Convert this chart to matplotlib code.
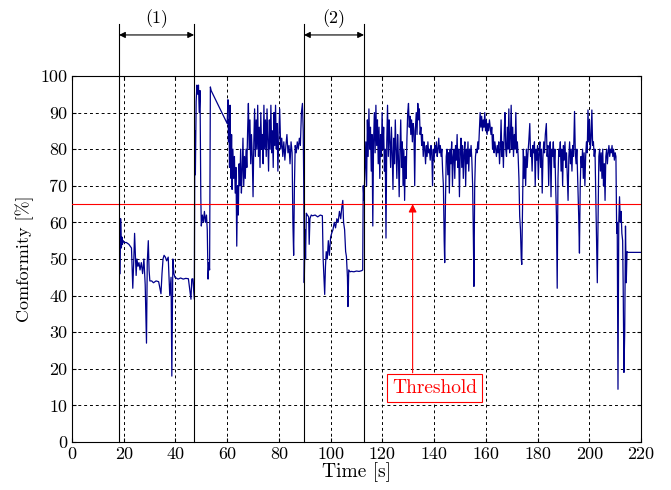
import numpy as np
import matplotlib
matplotlib.use('Agg')
import matplotlib.pyplot as plt

plt.rcParams['font.family'] = 'cmr10'
plt.rcParams['mathtext.fontset'] = 'cm'
plt.rcParams['axes.unicode_minus'] = False
plt.rcParams['font.size'] = 13

# readings, one block per stretch of the recording
t_a = [18.6, 18.8, 19.1, 19.3, 19.5, 19.8, 20.2, 21.0, 22.0, 23.0, 23.5, 23.9,
       24.2, 24.5, 24.8, 25.1, 25.5, 25.9, 26.3, 26.8, 27.3, 27.8, 28.3, 28.8,
       29.1, 29.5, 29.8, 30.1, 30.4, 30.8, 31.5, 32.5, 33.5, 34.4, 34.8, 35.2,
       35.6, 36.1, 36.6, 37.2, 37.8, 38.3, 38.6, 39.0, 39.4, 39.8, 40.3, 41.0,
       42.0, 43.0, 44.0, 45.0, 46.0, 46.3, 46.7]
c_a = [46, 61, 53, 56, 54, 55, 54.5, 54.5, 54, 53, 42, 50,
       57, 51, 45.5, 50, 48, 49, 47, 49, 46, 50, 43, 27,
       49, 55, 47, 44, 44, 44, 43.5, 44, 43.8, 40.5, 46, 50,
       51, 50.5, 49.5, 50.5, 40, 45, 18, 50, 46, 45, 44.8, 44.5,
       44.8, 44.5, 44.7, 44.6, 39, 44.5, 44.6]

t_b = [47.3, 47.5, 47.7, 48.0, 48.3, 48.6, 48.9, 49.2, 49.5, 49.8, 50.0, 50.4,
       50.8, 51.2, 51.6, 52.0, 52.3, 52.6, 52.9, 53.2, 53.5, 53.8, 60.0, 60.3,
       60.5, 60.7, 60.9, 61.1, 61.3, 61.5, 61.7, 61.9, 62.2, 62.5, 62.8, 63.1,
       63.4, 63.7, 64.0, 64.3, 64.6, 64.9, 65.2, 65.5, 65.8, 66.1, 66.4, 66.7,
       67.0, 67.3, 67.6, 67.9, 68.2, 68.5, 68.8, 69.1, 69.4, 69.7, 70.0, 70.3,
       70.6, 70.9, 71.2, 71.5, 71.8, 72.1, 72.4, 72.7, 73.0, 73.3, 73.6, 73.9,
       74.2, 74.5, 74.8, 75.1, 75.4, 75.7, 76.0, 76.3, 76.6, 76.9, 77.2, 77.5,
       77.8, 78.1, 78.4, 78.7, 79.0, 79.3, 79.6, 79.9, 80.3, 80.7, 81.1, 81.5,
       81.9, 82.3, 82.7, 83.1, 83.5, 83.9, 84.3, 84.7, 85.1, 85.4, 85.7, 86.0,
       86.3, 86.7, 87.1, 87.5, 87.9, 88.3, 88.7, 89.1, 89.4, 89.6, 89.8, 90.1,
       90.3, 90.6]
c_b = [39, 85, 73, 93, 97.5, 95, 97.5, 90, 96, 67, 59, 62,
       60, 63, 60, 62, 58, 44.5, 49, 47, 97, 96, 87, 93.5,
       82, 88, 75, 92, 80, 72, 84, 69, 80, 72, 78, 68,
       75, 53.5, 70, 62, 76, 70, 80, 68, 74, 83, 70, 78,
       72, 80, 75, 85, 92.5, 80, 88, 76, 84, 78, 67, 82,
       91, 78, 88, 80, 92, 78, 86, 75, 90, 80, 84, 76,
       92, 80, 88, 78, 91, 82, 74, 88, 80, 92, 79, 85,
       75, 90, 81, 92, 80, 87, 74, 82, 91, 80, 83, 78,
       82, 77, 81, 84, 79, 81, 76, 82, 79, 60, 51, 70,
       81, 79, 82, 80, 83, 81, 90, 92.5, 85, 70.7, 43.5, 58,
       50, 62.5]

t_c = [91.0, 91.5, 91.7, 92.0, 92.5, 93.0, 94.0, 95.0, 96.0, 96.8, 97.1, 97.4,
       97.7, 98.0, 98.3, 98.7, 99.1, 99.5, 100.0, 100.4, 100.9, 101.4, 101.9,
       102.4, 102.9, 103.4, 103.9, 104.3, 104.7, 105.0, 105.4, 105.8, 106.1,
       106.5, 106.7, 107.0, 107.5, 108.0, 109.0, 110.0, 111.0, 112.0, 112.4,
       112.6, 112.9]
c_c = [62, 61.5, 54, 61, 62, 61.8, 62, 61.5, 62, 61.8, 50, 45,
       40.3, 48, 52, 50, 55, 51, 56, 57, 58, 60, 58.5,
       61, 60, 63, 61, 64, 66, 60, 58, 52, 50.7,
       45, 37, 47, 46.5, 46.6, 46.5, 46.7, 46.6, 46.8, 47,
       70, 66]

t_d = [113.3, 113.6, 113.9, 114.2, 114.5, 114.8, 115.1, 115.4, 115.7, 116.0,
       116.3, 116.6, 116.9, 117.2, 117.5, 117.8, 118.1, 118.4, 118.7, 119.0,
       119.3, 119.6, 119.9, 120.2, 120.5, 120.8, 121.1, 121.4, 121.7, 122.0,
       122.3, 122.6, 122.9, 123.2, 123.5, 123.8, 124.1, 124.4, 124.7, 125.0,
       125.3, 125.6, 125.9, 126.2, 126.5, 126.8, 127.1, 127.4, 127.7, 128.0,
       128.3, 128.6, 128.9, 129.2, 129.5, 129.8, 130.1, 130.4, 130.7, 131.0,
       131.3, 131.6, 131.9, 132.2, 132.5, 132.8, 133.1, 133.4, 133.7, 134.0,
       134.3, 134.6, 134.9, 135.2, 135.5, 135.8, 136.1, 136.4, 136.7, 137.0,
       137.3, 137.6, 137.9, 138.2, 138.5, 138.8, 139.1, 139.4, 139.7, 140.0,
       140.3, 140.6, 140.9, 141.2, 141.5, 141.8, 142.1, 142.4, 142.7, 143.0,
       143.3, 143.6, 143.9, 144.1, 144.4, 144.7, 145.0, 145.3, 145.6, 145.9,
       146.2, 146.5, 146.8, 147.1, 147.4, 147.7, 148.0, 148.3, 148.6, 148.9,
       149.2, 149.5, 149.8, 150.1, 150.4, 150.7, 151.0, 151.3, 151.6, 151.9,
       152.2, 152.5, 152.8, 153.1, 153.4, 153.7, 154.0, 154.3, 154.6, 154.9,
       155.2, 155.4, 155.7, 156.0, 156.3, 156.6, 156.9, 157.2, 157.5, 157.8,
       158.1, 158.4, 158.7, 159.0, 159.3, 159.6, 159.9, 160.2, 160.5, 160.8,
       161.1, 161.4, 161.7, 162.0, 162.3, 162.6, 162.9, 163.2, 163.5, 163.8,
       164.1, 164.4, 164.7, 165.0, 165.3, 165.6, 165.9, 166.2, 166.5, 166.8,
       167.1, 167.4, 167.7, 168.0, 168.3, 168.6, 168.9, 169.2, 169.5, 169.8,
       170.1, 170.4, 170.7, 171.0, 171.3, 171.6, 171.9, 172.2, 172.5, 172.8,
       173.1, 173.4, 173.7, 173.9, 174.2, 174.5, 174.8, 175.1, 175.4, 175.7,
       176.0, 176.3, 176.6, 177.0, 177.3, 177.6, 177.9, 178.2, 178.5, 178.8,
       179.1, 179.4, 179.7, 180.0, 180.3, 180.6, 180.9, 181.2, 181.5, 181.8,
       182.1, 182.4, 182.7, 183.0, 183.4, 183.7, 184.0, 184.3, 184.6, 184.9,
       185.2, 185.5, 185.8, 186.1, 186.4, 186.7, 187.0, 187.3, 187.6, 187.9,
       188.2, 188.5, 188.8, 189.1, 189.4, 189.7, 190.0, 190.3, 190.6, 190.9,
       191.2, 191.5, 191.8, 192.1, 192.4, 192.7, 193.0, 193.3, 193.6, 193.9,
       194.3, 194.6, 194.9, 195.2, 195.5, 195.9, 196.2, 196.5, 196.8, 197.1,
       197.4, 197.7, 198.0, 198.3, 198.6, 198.9, 199.2, 199.5, 199.8, 200.1,
       200.4, 200.7, 201.0, 201.3, 201.6, 201.9, 202.2, 202.5, 202.8, 203.1,
       203.4, 203.7, 204.0, 204.3, 204.6, 204.9, 205.2, 205.5, 205.8, 206.1,
       206.4, 206.7, 207.0, 207.3, 207.6, 207.9, 208.2, 208.5, 208.8, 209.1,
       209.4, 209.7, 210.0, 210.3, 210.6, 210.8, 211.1, 211.4, 211.7, 212.0,
       212.3, 212.6, 212.9, 213.1, 213.4, 213.7, 214.0, 214.3, 214.6, 215.0,
       220.0]
c_d = [75, 82, 70, 88, 78, 91, 80, 86, 74, 84,
       59, 82, 90, 79, 92, 81, 88, 76, 86, 72,
       84, 78, 90, 80, 86, 74, 80, 55.7, 82, 92,
       78, 88, 82, 75, 86, 79, 69, 83, 76, 88,
       80, 72, 84, 78, 67, 80, 88, 75, 82, 70,
       80, 66, 78, 72, 83, 90, 92.5, 86, 89, 84,
       88, 82, 87, 85, 70, 86, 90, 84, 92.5, 88,
       91, 84, 86, 81, 84, 78, 82, 80, 76, 81,
       78, 82, 79, 80, 77, 81, 79, 70, 80, 77,
       81, 79, 82, 78, 80, 83, 79, 81, 78, 80,
       74, 70, 55, 49, 66, 78, 80, 73, 79, 68,
       80, 76, 82, 70, 78, 80, 72, 81, 77, 84,
       75, 80, 67, 79, 83, 75, 81, 72, 79, 82,
       70, 80, 76, 82, 74, 80, 78, 81, 77, 70,
       55, 42.5, 70, 78, 80, 79, 82, 80, 85, 90,
       86, 89, 85, 88, 86, 90, 85, 88, 84, 87,
       85, 88, 86, 84, 86, 80, 84, 79, 82, 80,
       78, 81, 79, 82, 76, 80, 88, 78, 82, 75,
       84, 90, 80, 78, 86, 80, 91, 79, 83, 92,
       80, 86, 78, 84, 80, 90, 79, 82, 78, 72,
       61.6, 58, 50, 48.5, 65, 80, 72, 78, 70, 80,
       75, 79, 82, 87, 78, 80, 74, 81, 79, 82,
       70, 80, 77, 81, 72, 79, 82, 75, 80, 68,
       78, 82, 79, 84, 87, 78, 81, 70, 79, 82,
       67, 80, 78, 82, 75, 80, 70, 62, 42, 72,
       80, 78, 82, 74, 80, 70, 81, 77, 82, 75,
       79, 72, 66, 78, 82, 76, 80, 74, 81, 78,
       90.3, 79, 76, 80, 72, 62, 51.6, 70, 78, 75,
       80, 72, 79, 70, 78, 82, 79, 90.7, 82, 88,
       80, 83, 90.7, 81, 82, 78, 80, 68, 55, 43.5,
       62, 78, 80, 74, 79, 72, 80, 70, 76, 66,
       78, 80, 76, 79, 81, 78, 80, 79, 81, 78,
       80, 77, 79, 78, 57, 60, 14.4, 60, 67, 60,
       63, 57, 55, 43, 19, 30, 59, 43.5, 52, 51.8,
       51.8]

period_edges = [18.2, 47.2, 89.7, 112.9]
period_labels = ['(1)', '(2)']
threshold = 65

time_s = np.array(t_a + t_b + t_c + t_d)
conformity = np.array(c_a + c_b + c_c + c_d)

fig = plt.figure(figsize=(6.71, 4.90), dpi=100)
ax = fig.add_axes([0.1073, 0.098, 0.848, 0.747])

ax.plot(time_s, conformity, color='#00008c', lw=0.9, zorder=3)
ax.axhline(threshold, color='red', lw=0.8, zorder=4)

# boundaries of the two marked periods run up past the top of the axes
for xe in period_edges:
    ax.plot([xe, xe], [0, 114.2], color='k', lw=0.8, clip_on=False, zorder=5)

for i, lab in enumerate(period_labels):
    x0, x1 = period_edges[2 * i], period_edges[2 * i + 1]
    ax.annotate('', xy=(x0, 111.2), xytext=(x1, 111.2),
                arrowprops=dict(arrowstyle='<|-|>', color='k', lw=0.8,
                                mutation_scale=9, shrinkA=0, shrinkB=0),
                annotation_clip=False)
    ax.text((x0 + x1) / 2, 115.6, lab, ha='center', va='center',
            fontsize=13, clip_on=False)

# threshold label: box below, arrow straight up to the red line
ax.annotate('', xy=(131.7, threshold), xytext=(131.7, 18.9),
            arrowprops=dict(arrowstyle='-|>', color='red', lw=0.8,
                            mutation_scale=12, shrinkA=0, shrinkB=0),
            zorder=6)
ax.text(140.2, 14.8, 'Threshold', ha='center', va='center', color='red',
        fontsize=14, zorder=7,
        bbox=dict(boxstyle='square,pad=0.25', fc='white', ec='red', lw=0.8))

ax.set_xlim(0, 220)
ax.set_ylim(0, 100)
ax.set_xticks(np.arange(0, 221, 20))
ax.set_yticks(np.arange(0, 101, 10))
ax.grid(True, color='k', linestyle=(0, (3, 3)), lw=0.7)
ax.tick_params(direction='in', top=True, right=True, length=3, labelsize=13)
ax.set_xlabel('Time [s]', labelpad=0, fontsize=14)
ax.set_ylabel('Comformity [%]', labelpad=4, fontsize=13)

fig.savefig('out.png', dpi=100)
